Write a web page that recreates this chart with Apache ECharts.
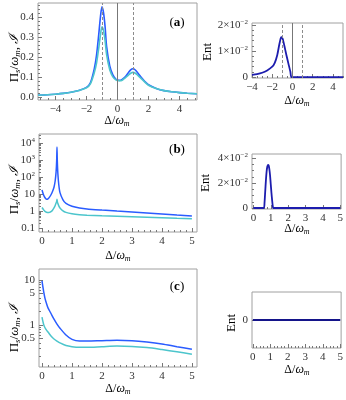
<!DOCTYPE html>
<html>
<head>
<meta charset="utf-8">
<script src="https://cdn.jsdelivr.net/npm/echarts@6/dist/echarts.min.js"></script>
<style>
  html, body { margin: 0; padding: 0; background: #fff; }
  #chart { width: 346px; height: 400px; }
</style>
</head>
<body>
<div id="chart"></div>
<script>
// ---------------- data ----------------
// panel (a), left: detuning vs Pi_s/omega_m and I
const aX = [-5.13,-4.5,-4,-3.5,-3,-2.5,-2,-1.75,-1.5,-1.35,-1.2,-1.1,-1.0,-0.9,-0.8,-0.7,-0.5,-0.3,-0.1,0,0.15,0.3,0.5,0.7,0.85,1.0,1.15,1.3,1.5,1.75,2,2.5,3,3.5,4,4.5,5.13];
const aBlue = [0.008,0.010,0.013,0.017,0.023,0.032,0.047,0.07,0.14,0.21,0.32,0.40,0.45,0.42,0.35,0.25,0.155,0.11,0.088,0.084,0.082,0.087,0.1,0.12,0.135,0.14,0.134,0.12,0.1,0.078,0.06,0.042,0.031,0.025,0.021,0.018,0.015];
const aCyan = [0.008,0.010,0.013,0.017,0.023,0.031,0.045,0.065,0.12,0.17,0.25,0.31,0.35,0.33,0.28,0.21,0.135,0.1,0.085,0.082,0.08,0.083,0.095,0.108,0.118,0.122,0.118,0.108,0.093,0.075,0.058,0.041,0.031,0.025,0.021,0.018,0.015];
// panel (a), right: entanglement
const aEntX = [-4,-3.5,-3,-2.5,-2,-1.75,-1.5,-1.3,-1.15,-1.05,-0.95,-0.8,-0.6,-0.4,-0.2,-0.1,0.5,5];
const aEnt = [0.0009,0.0012,0.0017,0.0026,0.004,0.0055,0.0085,0.0125,0.015,0.0153,0.0145,0.012,0.0085,0.0052,0.002,0,0,0];
const aLinesDashed = [-1, 1];
const aLineSolid = 0;

// panel (b)
const bX = [0,0.05,0.1,0.15,0.2,0.25,0.3,0.35,0.4,0.44,0.47,0.49,0.5,0.51,0.53,0.56,0.6,0.7,0.8,1.0,1.25,1.5,2,2.5,3,3.5,4,4.5,5];
const bBlue = [17,9,6,4.9,5.2,6.5,9,14,25,60,200,1000,5800,1000,150,35,12,4.5,2.8,1.9,1.5,1.3,1.12,0.98,0.87,0.76,0.66,0.57,0.5];
const bCyan = [1.6,1.2,0.95,0.84,0.8,0.82,0.9,1.1,1.5,2.1,2.9,3.8,4.8,3.7,2.7,2.0,1.5,1.0,0.82,0.68,0.6,0.56,0.52,0.49,0.46,0.43,0.4,0.37,0.35];
const bEntX = [0,0.6,0.64,0.68,0.72,0.76,0.8,0.84,0.88,0.92,0.96,1.0,1.04,1.08,1.12,1.15,5];
const bEnt = [0,0,0.004,0.013,0.022,0.029,0.033,0.0345,0.034,0.031,0.026,0.019,0.012,0.006,0.001,0,0];

// panel (c)
const cX = [0,0.03,0.06,0.1,0.15,0.2,0.3,0.4,0.5,0.6,0.8,1.0,1.25,1.5,2,2.5,3,3.5,4,4.5,5];
const cBlue = [9.5,7,5.3,3.9,3.0,2.4,1.8,1.35,1.05,0.85,0.6,0.48,0.44,0.44,0.45,0.46,0.45,0.42,0.38,0.33,0.29];
const cCyan = [1.5,1.2,1.0,0.87,0.77,0.7,0.57,0.49,0.44,0.4,0.35,0.33,0.32,0.32,0.33,0.34,0.335,0.315,0.285,0.255,0.225];
const cEntX = [0,5];
const cEnt = [0,0];

// tick positions
const ticksA = [-4,-2,0,2,4];
const ticksA2 = [0,0.01,0.02];
const ticksAy = [0,0.1,0.2,0.3,0.4];
const ticks05 = [0,1,2,3,4,5];
const ticksBy = [0.1,1,10,100,1000,10000];
const ticksB2 = [0,0.02,0.04];
const ticksCy = [0.5,1,5,10];
// -----------------------------------------------------------

const FONT = "'Liberation Serif','DejaVu Serif',serif";
const BLUE = '#2a5cff', CYAN = '#4cc5cc', NAVY = '#1d1dae', NAVY2 = '#14148a';
const zip = (xs, ys) => xs.map((x, i) => [x, ys[i]]);
const steps = (a, b, s, skip) => {
  const out = [];
  for (let v = a; v <= b + 1e-9; v += s) {
    const r = Math.round(v * 1e6) / 1e6;
    if (!skip.some(k => Math.abs(k - r) < 1e-9)) out.push(r);
  }
  return out;
};
const logMinor = (lo, hi) => {
  const out = [];
  for (let d = lo; d < hi; d *= 10) for (let k = 2; k <= 9; k++) out.push(+(d * k).toPrecision(3));
  return out;
};
const minus = v => String(v).replace('-', '\u2212');
const sci = v => v === 0 ? '0' : Math.round(v * 100) + '×10{sup|\u22122}';
const pow = v => v < 1 ? '0.1' : v < 50 ? String(v) : '10{sup|' + Math.round(Math.log10(v)) + '}';

const grids = [
  { left: 38, top: 3, width: 159, height: 97 },
  { left: 252, top: 23, width: 91, height: 55 },
  { left: 39, top: 134, width: 158, height: 98 },
  { left: 252, top: 154, width: 90, height: 55 },
  { left: 39, top: 269, width: 158, height: 98 },
  { left: 252, top: 292, width: 91, height: 56 }
].map(g => Object.assign({ show: true, borderColor: '#a0a0a0', borderWidth: 1, containLabel: false }, g));

const labelStyle = {
  fontFamily: FONT, fontSize: 11, color: '#333',
  rich: { sup: { fontFamily: FONT, fontSize: 7, color: '#333', padding: [0, 0, 6, 0] } }
};
const tickStyle = { color: '#777', width: 1 };

function axisPair(dim, gi, type, min, max, major, minor, fmt) {
  const base = {
    type: type, gridIndex: gi, min: min, max: max, offset: 0,
    position: dim === 'x' ? 'bottom' : 'left',
    axisLine: { show: false, onZero: false }, splitLine: { show: false }
  };
  if (type === 'log') base.logBase = 10;
  const main = Object.assign({}, base, {
    axisTick: { show: true, inside: true, length: 4, customValues: major, lineStyle: tickStyle },
    axisLabel: Object.assign({ show: true, customValues: major, formatter: fmt, margin: 4 }, labelStyle)
  });
  const sub = Object.assign({}, base, {
    axisTick: { show: minor.length > 0, inside: true, length: 2, customValues: minor.length ? minor : [min], lineStyle: tickStyle },
    axisLabel: { show: false }
  });
  return [main, sub];
}

const xAxes = [].concat(
  axisPair('x', 0, 'value', -5.13, 5.13, ticksA, steps(-5, 5, 0.5, ticksA), minus),
  axisPair('x', 1, 'value', -4, 5, ticksA, steps(-4, 5, 0.5, ticksA), minus),
  axisPair('x', 2, 'value', -0.1, 5.17, ticks05, steps(0, 5, 0.2, ticks05), String),
  axisPair('x', 3, 'value', -0.08, 5.05, ticks05, steps(0, 5, 0.2, ticks05), String),
  axisPair('x', 4, 'value', -0.1, 5.17, ticks05, steps(0, 5, 0.2, ticks05), String),
  axisPair('x', 5, 'value', -0.05, 5.05, ticks05, steps(0, 5, 0.2, ticks05), String)
);
const yAxes = [].concat(
  axisPair('y', 0, 'value', -0.016, 0.469, ticksAy, steps(0, 0.46, 0.02, ticksAy), v => v.toFixed(1)),
  axisPair('y', 1, 'value', -0.0003, 0.0207, ticksA2, steps(0, 0.02, 0.002, ticksA2), sci),
  axisPair('y', 2, 'log', 0.0575, 33900, ticksBy, logMinor(0.1, 10000).concat([20000, 30000]), pow),
  axisPair('y', 3, 'value', -0.0008, 0.0432, ticksB2, steps(0, 0.04, 0.005, ticksB2), sci),
  axisPair('y', 4, 'log', 0.117, 17.5, ticksCy, [0.2,0.3,0.4,0.6,0.7,0.8,0.9,2,3,4,6,7,8,9], String),
  axisPair('y', 5, 'value', -1, 1, [0], [], String)
);

function line(gi, data, color, width, extra) {
  return Object.assign({
    type: 'line', xAxisIndex: gi * 2, yAxisIndex: gi * 2, data: data,
    showSymbol: false, symbol: 'none', smooth: 0.3,
    lineStyle: { color: color, width: width }, itemStyle: { color: color },
    animation: false, silent: true
  }, extra || {});
}
const refLines = {
  markLine: {
    silent: true, symbol: 'none', label: { show: false }, animation: false,
    data: aLinesDashed.map(v => ({ xAxis: v, lineStyle: { color: '#8c8c8c', type: [3, 2], width: 1 } }))
      .concat([{ xAxis: aLineSolid, lineStyle: { color: '#777', type: 'solid', width: 1 } }])
  }
};

const series = [
  line(0, zip(aX, aBlue), BLUE, 1.6, refLines),
  line(0, zip(aX, aCyan), CYAN, 1.6),
  line(1, zip(aEntX, aEnt), NAVY, 1.8, Object.assign({ smooth: 0.2 }, refLines)),
  line(2, zip(bX, bBlue), BLUE, 1.5, { smooth: 0.2 }),
  line(2, zip(bX, bCyan), CYAN, 1.5, { smooth: 0.2 }),
  line(3, zip(bEntX, bEnt), NAVY, 1.8, { smooth: 0.2 }),
  line(4, zip(cX, cBlue), BLUE, 1.5),
  line(4, zip(cX, cCyan), CYAN, 1.5),
  line(5, zip(cEntX, cEnt), NAVY2, 1.8)
];

// axis titles and panel labels
const rich = {
  n: { fontFamily: FONT, fontSize: 12, color: '#222' },
  i: { fontFamily: FONT, fontSize: 12, fontStyle: 'italic', color: '#222' },
  sub: { fontFamily: FONT, fontSize: 8, fontStyle: 'italic', color: '#222', padding: [5, 0, 0, 0] },
  N: { fontFamily: FONT, fontSize: 13, color: '#222' },
  I: { fontFamily: FONT, fontSize: 13, fontStyle: 'italic', color: '#222' },
  S: { fontFamily: FONT, fontSize: 9, fontStyle: 'italic', color: '#222', padding: [5, 0, 0, 0] },
  b: { fontFamily: FONT, fontSize: 13, fontWeight: 'bold', color: '#222' },
  p: { fontFamily: FONT, fontSize: 13, color: '#222' }
};
function txt(x, y, text, rot) {
  return {
    type: 'text', x: x, y: y, rotation: rot || 0, silent: true,
    style: { text: text, rich: rich, align: 'center', verticalAlign: 'middle', textAlign: 'center', textVerticalAlign: 'middle' }
  };
}
const xTitle = '{n|Δ/}{i|ω}{sub|m}';
const yTitle = '{N|Π}{S|s}{N|/}{I|ω}{S|m}{N|, }{I|ℐ}';
const entTitle = '{N|Ent}';
const graphics = [
  txt(117, 121, xTitle), txt(118, 256, xTitle), txt(118, 389, xTitle),
  txt(297, 101, xTitle), txt(297, 229, xTitle), txt(297, 370, xTitle),
  txt(15, 58, yTitle, Math.PI / 2), txt(15, 190, yTitle, Math.PI / 2), txt(15, 328, yTitle, Math.PI / 2),
  txt(208, 52, entTitle, Math.PI / 2), txt(206, 183, entTitle, Math.PI / 2), txt(232, 323, entTitle, Math.PI / 2),
  txt(177, 23, '{p|(}{b|a}{p|)}'), txt(177, 150, '{p|(}{b|b}{p|)}'), txt(177, 287, '{p|(}{b|c}{p|)}')
];

const chart = echarts.init(document.getElementById('chart'), null, { renderer: 'canvas' });
chart.setOption({
  animation: false,
  backgroundColor: '#fff',
  grid: grids,
  xAxis: xAxes,
  yAxis: yAxes,
  series: series,
  graphic: graphics
});
</script>
</body>
</html>
